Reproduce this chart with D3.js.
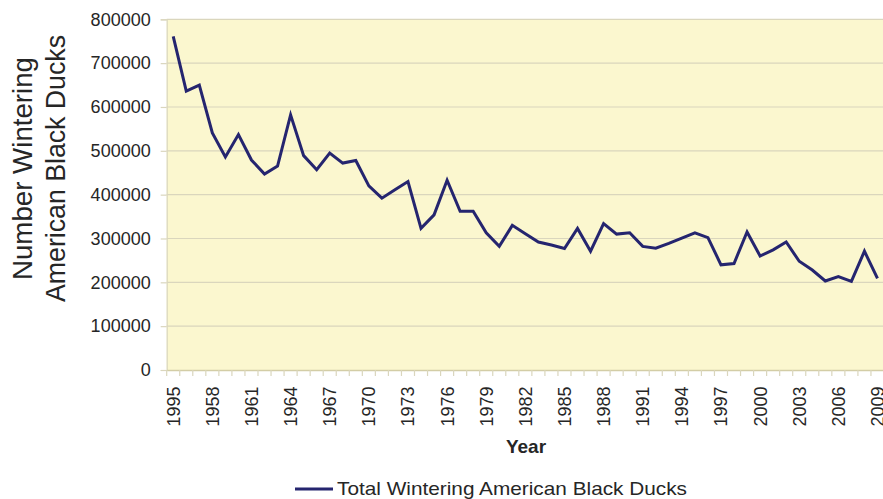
<!DOCTYPE html>
<html>
<head>
<meta charset="utf-8">
<script src="https://cdn.jsdelivr.net/npm/d3@7/dist/d3.min.js"></script>
<style>
  html, body { margin: 0; padding: 0; background: #ffffff; }
  svg { display: block; }
  text { font-family: "Liberation Sans", Arial, sans-serif; fill: #262626; }
</style>
</head>
<body>
<svg id="chart" width="883" height="499"></svg>
<script>
// Winter survey years (one category per year)
const years = [
  "1955","1956","1957","1958","1959","1960","1961","1962","1963","1964",
  "1965","1966","1967","1968","1969","1970","1971","1972","1973","1974",
  "1975","1976","1977","1978","1979","1980","1981","1982","1983","1984",
  "1985","1986","1987","1988","1989","1990","1991","1992","1993","1994",
  "1995","1996","1997","1998","1999","2000","2001","2002","2003","2004",
  "2005","2006","2007","2008","2009"
];

// Total wintering American black ducks counted each year
const totals = [
  761000, 636000, 650000, 541000, 486000, 537000, 479000, 447000, 465000, 582000,
  489000, 457000, 495000, 472000, 478000, 420000, 392000, 411000, 430000, 323000,
  354000, 433000, 362000, 362000, 313000, 282000, 330000, 311000, 292000, 285000,
  277000, 323000, 271000, 334000, 310000, 313000, 282000, 278000, 289000, 301000,
  313000, 302000, 240000, 243000, 315000, 260000, 274000, 292000, 248000, 228000,
  203000, 213000, 202000, 271000, 209000
];

// Labels printed under every third year
const xTickLabels = [
  "1995","1958","1961","1964","1967","1970","1973","1976","1979","1982",
  "1985","1988","1991","1994","1997","2000","2003","2006","2009"
];

const yTicks = [0, 100000, 200000, 300000, 400000, 500000, 600000, 700000, 800000];

const seriesName = "Total Wintering American Black Ducks";
const yTitleLines = ["Number Wintering", "American Black Ducks"];
const xTitle = "Year";

const svg = d3.select("#chart");
const plot = { left: 166.7, right: 884, top: 19.3, bottom: 370 };

const x = d3.scaleBand().domain(years).range([plot.left, plot.right]).padding(0);
const y = d3.scaleLinear().domain([0, 800000]).range([plot.bottom, plot.top]);

const lineColor = "#25256f";
const gridColor = "#dad6bd";
const axisColor = "#d3cda6";

// plot background
svg.append("rect")
  .attr("x", plot.left).attr("y", plot.top)
  .attr("width", plot.right - plot.left).attr("height", plot.bottom - plot.top)
  .attr("fill", "#fbf7cf");

// horizontal gridlines
svg.append("g").selectAll("line")
  .data(yTicks.filter(d => d > 0))
  .join("line")
  .attr("x1", plot.left).attr("x2", plot.right)
  .attr("y1", d => y(d)).attr("y2", d => y(d))
  .attr("stroke", gridColor).attr("stroke-width", 1.2);

// y axis
const yAxis = svg.append("g")
  .attr("transform", `translate(${plot.left},0)`)
  .call(d3.axisLeft(y).tickValues(yTicks).tickFormat(d3.format("d")).tickSize(6).tickPadding(10));
yAxis.select(".domain").attr("stroke", gridColor).attr("stroke-width", 1.2);
yAxis.selectAll(".tick line").attr("stroke", gridColor).attr("stroke-width", 1.2);
yAxis.selectAll(".tick text")
  .attr("font-size", 18).attr("fill", "#262626")
  .attr("font-family", "'Liberation Sans', Arial, sans-serif");

// x axis: labels every third year, centred on the year band
const labelledYears = years.filter((d, i) => i % 3 === 0);
const labelFor = new Map(labelledYears.map((d, i) => [d, xTickLabels[i]]));
const xAxis = svg.append("g")
  .attr("transform", `translate(0,${plot.bottom})`)
  .call(d3.axisBottom(x).tickValues(labelledYears).tickFormat(d => labelFor.get(d)).tickSize(0));
xAxis.select(".domain").attr("stroke", axisColor).attr("stroke-width", 1.5);
xAxis.selectAll(".tick text")
  .attr("transform", "rotate(-90)")
  .attr("x", -16.5).attr("y", 0).attr("dy", "0.36em")
  .attr("text-anchor", "end")
  .attr("font-size", 18).attr("fill", "#262626")
  .attr("font-family", "'Liberation Sans', Arial, sans-serif");

// small tick marks on the band boundaries
svg.append("g").selectAll("line")
  .data(years)
  .join("line")
  .attr("x1", d => x(d)).attr("x2", d => x(d))
  .attr("y1", plot.bottom).attr("y2", plot.bottom + 6)
  .attr("stroke", gridColor).attr("stroke-width", 1.2);

// data line
const line = d3.line()
  .x((d, i) => x(years[i]) + x.bandwidth() / 2)
  .y(d => y(d));
svg.append("path")
  .datum(totals)
  .attr("d", line)
  .attr("fill", "none")
  .attr("stroke", lineColor)
  .attr("stroke-width", 3)
  .attr("stroke-linejoin", "miter");

// axis titles
svg.append("text")
  .attr("x", 526).attr("y", 453)
  .attr("text-anchor", "middle")
  .attr("font-size", 19).attr("font-weight", "bold")
  .text(xTitle);

const yTitle = svg.append("g").attr("transform", "translate(0,168.5) rotate(-90)");
yTitle.append("text")
  .attr("x", 0).attr("y", 32)
  .attr("text-anchor", "middle")
  .attr("font-size", 28)
  .attr("font-family", "Lato, 'Open Sans', sans-serif")
  .attr("textLength", 223).attr("lengthAdjust", "spacingAndGlyphs")
  .text(yTitleLines[0]);
yTitle.append("text")
  .attr("x", 0).attr("y", 65)
  .attr("text-anchor", "middle")
  .attr("font-size", 28)
  .attr("font-family", "Lato, 'Open Sans', sans-serif")
  .attr("textLength", 267).attr("lengthAdjust", "spacingAndGlyphs")
  .text(yTitleLines[1]);

// legend
const legend = svg.append("g").attr("transform", "translate(295,489)");
legend.append("line")
  .attr("x1", 0).attr("x2", 38).attr("y1", 0).attr("y2", 0)
  .attr("stroke", lineColor).attr("stroke-width", 3);
legend.append("text")
  .attr("x", 42).attr("y", 5.5)
  .attr("font-size", 19)
  .attr("textLength", 350).attr("lengthAdjust", "spacingAndGlyphs")
  .text(seriesName);
</script>
</body>
</html>
